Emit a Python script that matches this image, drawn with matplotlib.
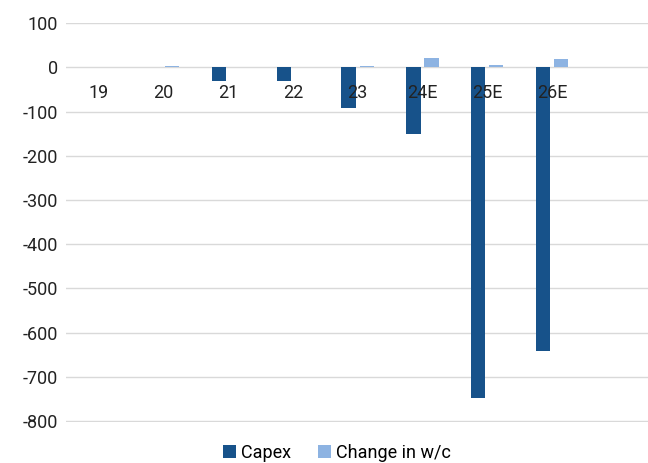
import numpy as np
import matplotlib.pyplot as plt

plt.rcParams['font.family'] = ['Roboto', 'DejaVu Sans']
plt.rcParams['axes.unicode_minus'] = False

# data
years = ['19', '20', '21', '22', '23', '24E', '25E', '26E']
capex = [0, 0, -32, -30, -92, -151, -748, -642]
change_wc = [0, 3, 0, 0, 3, 21, 6, 19]

barWidth = 0.22
x = np.arange(len(years))

fig = plt.figure(figsize=(6.48, 4.63), dpi=100)
ax = fig.add_axes([0.102, 0.0896, 0.898, 0.8615])

ax.bar(x - 0.14, capex, width=barWidth, color='#17528a', label='Capex', zorder=2)
ax.bar(x + 0.14, change_wc, width=barWidth, color='#8db3e2', label='Change in w/c', zorder=2)

ax.set_xlim(-0.5, 8.48)
ax.set_ylim(-801, 101)
ax.set_yticks(np.arange(-800, 101, 100))
ax.grid(axis='y', color='#d9d9d9', linewidth=1, zorder=0)
ax.set_axisbelow(True)

for s in ax.spines.values():
    s.set_visible(False)
ax.tick_params(axis='y', length=0, pad=6, labelsize=13, labelcolor='#222222')

# category labels sit just below the zero line, over the bars
ax.set_xticks([])
for i, lab in enumerate(years):
    ax.text(i, -57, lab, ha='center', va='center', fontsize=13, color='#222222', zorder=5)

fig.legend(loc='center', bbox_to_anchor=(0.52, 0.022), ncol=2, frameon=False,
           fontsize=13, handlelength=0.7, handleheight=0.7, handletextpad=0.3,
           columnspacing=1.5)

fig.savefig('out.png', dpi=100)
